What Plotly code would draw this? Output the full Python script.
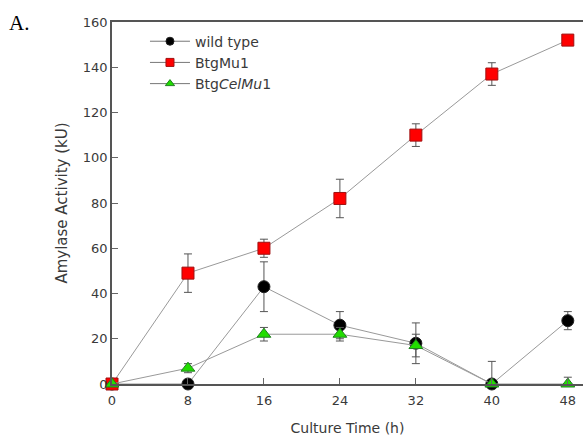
import plotly.graph_objects as go

# Culture time points (h)
hours = [0, 8, 16, 24, 32, 40, 48]

# Amylase activity (kU) and standard deviations
wild_type = [0, 0, 43, 26, 18, 0, 28]
wild_type_err = [0, 0, 11, 6, 9, 10, 4]

btg_mu1 = [0, 49, 60, 82, 110, 137, 152]
btg_mu1_err = [0, 8.5, 4, 8.5, 5, 5, 2]

btg_celmu1 = [0, 7, 22, 22, 17, 0, 0]
btg_celmu1_err = [0, 2, 3, 3, 5, 0, 3]

x_ticks = [0, 8, 16, 24, 32, 40, 48]
y_ticks = [0, 20, 40, 60, 80, 100, 120, 140, 160]

FONT = "DejaVu Sans, Verdana, sans-serif"
TEXT_COLOR = "#3a3a3a"

series = [
    ("wild type", wild_type, wild_type_err,
     dict(symbol="circle", color="#000000", line=dict(color="#222222", width=1))),
    ("BtgMu1", btg_mu1, btg_mu1_err,
     dict(symbol="square", color="#ff0000", line=dict(color="#a01010", width=1))),
    ("Btg<i>CelMu</i>1", btg_celmu1, btg_celmu1_err,
     dict(symbol="triangle-up", color="#22dd00", line=dict(color="#208020", width=1))),
]

fig = go.Figure()
for name, vals, errs, marker in series:
    fig.add_trace(go.Scatter(
        x=hours, y=vals, name=name, mode="lines+markers",
        line=dict(color="#999999", width=1),
        marker=dict(size=12, **marker),
        error_y=dict(type="data", array=errs, color="#555555", thickness=1, width=4),
        cliponaxis=False, showlegend=False,
    ))

# Legend entries use smaller symbols than the plotted points
for name, vals, errs, marker in series:
    fig.add_trace(go.Scatter(
        x=[None], y=[None], name=name, mode="lines+markers",
        line=dict(color="#777777", width=1),
        marker=dict(size=8, **marker),
        showlegend=True,
    ))

tick_font = dict(family=FONT, size=13, color=TEXT_COLOR)

fig.update_layout(
    width=583, height=446,
    margin=dict(l=112, r=0, t=22, b=62),
    paper_bgcolor="white", plot_bgcolor="white",
    legend=dict(
        x=0.07, y=0.99, xanchor="left", yanchor="top",
        bgcolor="rgba(0,0,0,0)",
        font=dict(family=FONT, size=14, color=TEXT_COLOR),
        tracegroupgap=0, itemwidth=40,
    ),
    font=tick_font,
)

fig.update_xaxes(
    range=[0, 49.6], tickvals=x_ticks, ticktext=[str(v) for v in x_ticks],
    ticks="inside", ticklen=6, tickcolor="#666666", ticklabelstandoff=4,
    showline=True, linecolor="#555555", linewidth=1.5, mirror=True,
    showgrid=False, zeroline=False,
    title=dict(text="Culture Time (h)", font=dict(family=FONT, size=14, color=TEXT_COLOR), standoff=16),
    tickfont=tick_font,
)
fig.update_yaxes(
    range=[0, 160], tickvals=y_ticks, ticktext=[str(v) for v in y_ticks],
    ticks="inside", ticklen=6, tickcolor="#666666",
    showline=True, linecolor="#555555", linewidth=1.5, mirror=False,
    showgrid=False, zeroline=False,
    title=dict(text="Amylase Activity (kU)", font=dict(family=FONT, size=15, color=TEXT_COLOR), standoff=12),
    tickfont=tick_font,
)

fig.add_annotation(
    text="A.", xref="paper", yref="paper", x=-0.222, y=1.035,
    xanchor="left", yanchor="top", showarrow=False,
    font=dict(family="Liberation Serif, Times New Roman, serif", size=21, color="#000000"),
)

fig.write_html("out.html")
